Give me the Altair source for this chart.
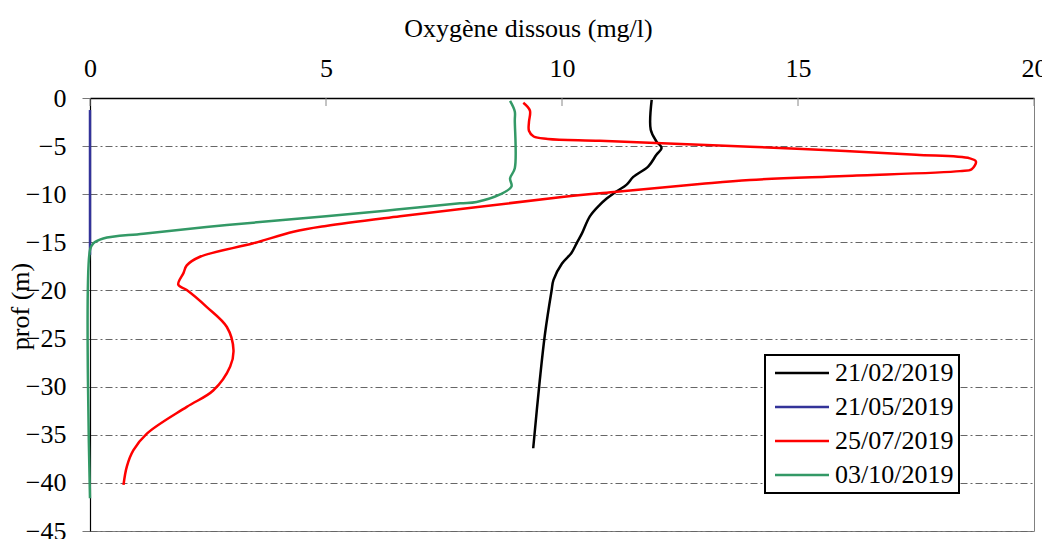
import altair as alt
import pandas as pd

series_names = ["21/02/2019", "21/05/2019", "25/07/2019", "03/10/2019"]
series_colors = ["#000000", "#333399", "#ff0000", "#339966"]

feb_depth = [-0.2, -3.3, -4.5, -5.2, -5.9, -7.1, -8.2, -9.0, -9.7, -10.6, -11.1, -12.3,
             -14.1, -15.1, -16.1, -17.2, -18.9, -20.0, -24.5, -29.3, -36.4]
feb_o2 = [11.9, 11.88, 12.0, 12.11, 12.0, 11.83, 11.51, 11.37, 11.16, 10.91, 10.8, 10.59,
          10.42, 10.31, 10.2, 10.0, 9.82, 9.78, 9.64, 9.53, 9.39]

may_depth = [-1.25, -16.3]
may_o2 = [0.0, 0.0]

jul_depth = [-0.5, -1.3, -2.5, -3.4, -4.0, -4.25, -4.45, -4.86, -5.06, -5.5, -5.9, -6.27,
             -6.6, -7.4, -7.6, -8.1, -8.52, -8.94, -9.74, -10.3, -12.3, -13.3, -13.9,
             -15.1, -16.5, -17.4, -18.2, -19.4, -19.96, -21.7, -23.8, -26.2, -27.9,
             -30.4, -32.1, -34.9, -36.6, -38.3, -40.2]
jul_o2 = [9.18, 9.32, 9.3, 9.3, 9.4, 9.7, 10.8, 12.92, 13.98, 16.0, 17.5, 18.64,
          18.77, 18.68, 18.43, 16.0, 13.98, 12.92, 11.16, 10.0, 6.57, 5.0, 4.31,
          3.46, 2.33, 2.05, 1.98, 1.87, 2.05, 2.47, 2.9, 3.04, 2.97,
          2.61, 2.05, 1.2, 0.92, 0.78, 0.71]

oct_depth = [-0.3, -1.4, -2.3, -7.3, -8.35, -9.2, -10.0, -10.8, -10.95, -11.6, -12.3,
             -13.2, -14.1, -14.6, -15.1, -15.8, -41.6]
oct_o2 = [8.9, 9.0, 9.0, 9.0, 8.9, 8.93, 8.7, 8.19, 7.84, 6.5, 5.0,
          2.9, 1.13, 0.28, 0.07, 0.0, 0.0]

x_ticks = [0, 5, 10, 15, 20]
y_ticks = [0, -5, -10, -15, -20, -25, -30, -35, -40, -45]

rows = []
for name, depths, vals in zip(series_names,
                              [feb_depth, may_depth, jul_depth, oct_depth],
                              [feb_o2, may_o2, jul_o2, oct_o2]):
    for i, (d, v) in enumerate(zip(depths, vals)):
        rows.append({"date": name, "prof": d, "o2": v, "i": i})
df = pd.DataFrame(rows)
tick_df = pd.DataFrame({"t": x_ticks})

FONT = "'Liberation Serif', 'Times New Roman', Times, serif"
FS = 26
XTITLE = "Oxygène dissous (mg/l)"

x_axis = alt.Axis(orient="top", values=x_ticks, title=XTITLE, grid=False, ticks=False,
                  labelPadding=17, labelFlush=False, domainColor="black", domainWidth=1.5,
                  titleX=438, titleY=-62, titleAlign="center", titleBaseline="alphabetic")
x_scale = alt.Scale(domain=[0, 20], nice=False)
y_scale = alt.Scale(domain=[-45, 0], nice=False, zero=False)

lines = alt.Chart(df).mark_line(strokeWidth=2.5, interpolate="catmull-rom").encode(
    x=alt.X("o2:Q", scale=x_scale, axis=x_axis),
    y=alt.Y("prof:Q", scale=y_scale,
            axis=alt.Axis(values=y_ticks, title="prof (m)", grid=True, labelFlush=False,
                          gridDash=[7, 3, 2, 3], gridColor="#666666", gridWidth=1,
                          tickSize=8, tickColor="#777777", labelPadding=16,
                          domainColor="black", domainWidth=1.2,
                          titleX=-62, titleY=208, titleAngle=-90,
                          titleAlign="center", titleBaseline="alphabetic")),
    color=alt.Color("date:N", sort=series_names,
                    scale=alt.Scale(domain=series_names, range=series_colors),
                    legend=alt.Legend(title=None, orient="none", legendX=675, legendY=257,
                                      symbolType="M-3,0H3", symbolSize=324,
                                      symbolOffset=19,
                                      symbolStrokeWidth=2.5, labelFontSize=FS,
                                      labelFont=FONT, labelColor="black",
                                      strokeColor="black", fillColor="white",
                                      padding=5, rowPadding=8, labelOffset=20)),
    order="i:Q",
)

ticks = alt.Chart(tick_df).mark_rule(color="#888888", strokeWidth=1).encode(
    x=alt.X("t:Q", scale=x_scale, axis=x_axis),
    y=alt.value(0),
    y2=alt.value(8),
)

chart = alt.layer(ticks, lines).properties(
    width=944, height=433,
    autosize=alt.AutoSizeParams(type="none"),
    padding={"left": 82, "top": 90, "right": 8, "bottom": 20},
).configure(font=FONT).configure_axis(
    labelFont=FONT, labelFontSize=FS, labelColor="black",
    titleFont=FONT, titleFontSize=FS, titleColor="black", titleFontWeight="normal",
).configure_view(stroke="#808080", strokeWidth=1).configure_legend(strokeWidth=2)

chart.save("out.html", embed_options={"renderer": "svg", "actions": False})
